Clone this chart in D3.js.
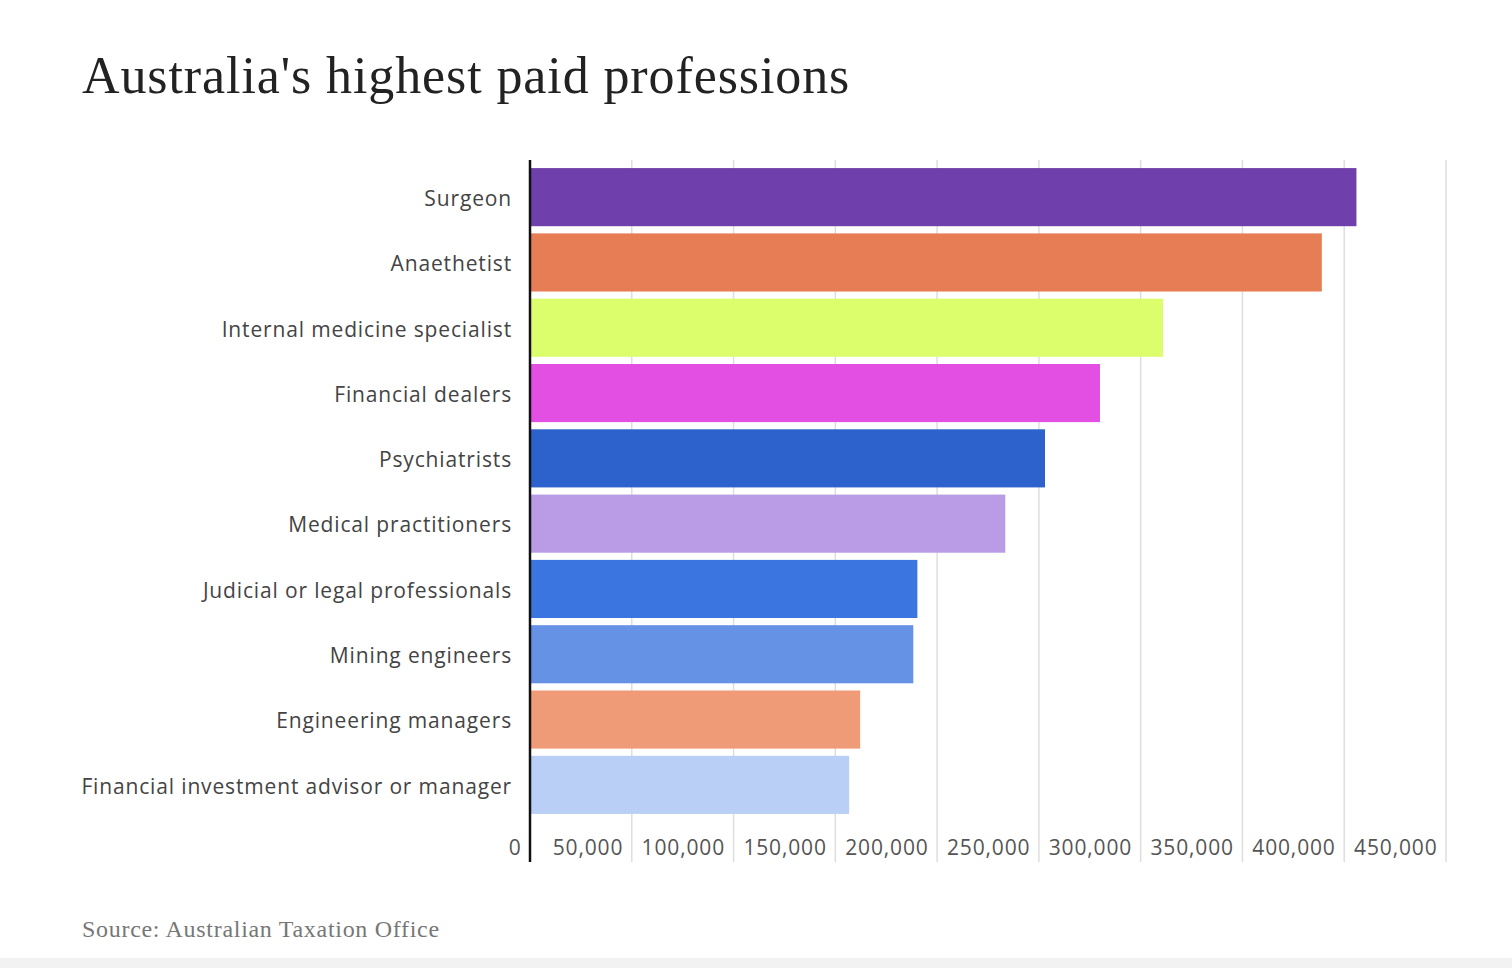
<!DOCTYPE html>
<html><head><meta charset="utf-8">
<script src="https://cdn.jsdelivr.net/npm/d3@7"></script>
<style>
body{margin:0;background:#fff;}
svg{display:block;}
</style></head>
<body>
<script>
const categories = ["Surgeon","Anaethetist","Internal medicine specialist","Financial dealers","Psychiatrists","Medical practitioners","Judicial or legal professionals","Mining engineers","Engineering managers","Financial investment advisor or manager"];
const values = [406000, 389000, 311000, 280000, 253000, 233500, 190300, 188300, 162200, 156800];
const colors = ["#6f3fab","#e67d55","#dcfd6c","#e34fe3","#2d62cc","#b99be6","#3b75e0","#6692e6","#ef9b78","#b9cff5"];
const tickValues = [0,50000,100000,150000,200000,250000,300000,350000,400000,450000];
const title = "Australia's highest paid professions";
const source = "Source: Australian Taxation Office";

const W = 1512, H = 968;
const svg = d3.select("body").append("svg").attr("width", W).attr("height", H);
svg.append("rect").attr("x",0).attr("y",958).attr("width",W).attr("height",10).attr("fill","#f2f2f2");

const x = d3.scaleLinear().domain([0,450000]).range([530,1446]);
const y = d3.scaleBand().domain(categories).range([164.5,817.5]).paddingInner(0.11).paddingOuter(0.055);

// gridlines
svg.append("g").selectAll("line").data(tickValues.slice(1)).join("line")
  .attr("x1",d=>x(d)).attr("x2",d=>x(d)).attr("y1",160).attr("y2",862)
  .attr("stroke","#dedede").attr("stroke-width",1.5);

// bars
svg.append("g").selectAll("rect").data(categories).join("rect")
  .attr("x",x(0)).attr("y",d=>y(d)).attr("height",y.bandwidth())
  .attr("width",(d,i)=>x(values[i])-x(0)).attr("fill",(d,i)=>colors[i]);

// axis line
svg.append("line").attr("x1",x(0)).attr("x2",x(0)).attr("y1",160).attr("y2",862)
  .attr("stroke","#111").attr("stroke-width",2.5);

// category labels via axis
const yAxis = svg.append("g").attr("transform",`translate(${x(0)-18},0)`)
  .call(d3.axisLeft(y).tickSize(0).tickPadding(0));
yAxis.select(".domain").remove();
yAxis.selectAll("text").attr("font-family","'Open Sans', sans-serif").attr("font-size",21)
  .attr("letter-spacing","0.85px").attr("fill","#444").attr("dy","0.42em");

// x tick labels
const xAxis = svg.append("g").attr("transform","translate(-9,847)")
  .call(d3.axisBottom(x).tickValues(tickValues).tickSize(0).tickPadding(0).tickFormat(d3.format(",")));
xAxis.select(".domain").remove();
xAxis.selectAll("text").attr("text-anchor","end").attr("font-family","'Open Sans', sans-serif")
  .attr("font-size",21).attr("letter-spacing","0.85px").attr("fill","#555").attr("dy","0.36em").attr("y",0);

// title
svg.append("text").attr("x",82).attr("y",93).text(title)
  .attr("font-family","'Liberation Serif', serif").attr("font-size",52).attr("letter-spacing","0.9px").attr("fill","#222");
// source
svg.append("text").attr("x",82).attr("y",937).text(source)
  .attr("font-family","'Liberation Serif', serif").attr("font-size",24).attr("letter-spacing","0.7px").attr("fill","#777");
</script>
</body></html>
